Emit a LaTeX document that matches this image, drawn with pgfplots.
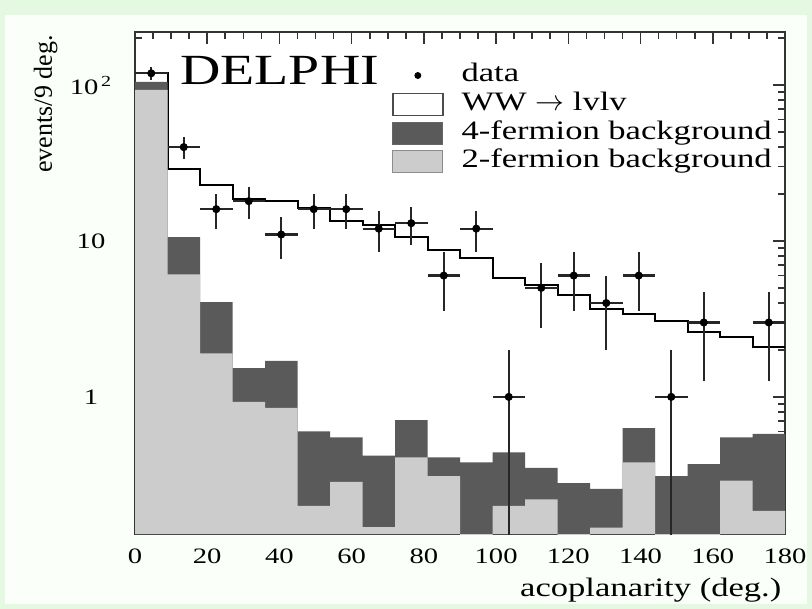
\documentclass[border=0pt]{standalone}
\usepackage{fontspec}
\setmainfont{Liberation Serif}[FakeStretch=1.3]
\newfontfamily\plainserif{Liberation Serif}
\usepackage{pgfplots}
\pgfplotsset{compat=1.18}
\definecolor{lightfill}{HTML}{CCCCCC}
\definecolor{darkfill}{HTML}{5A5A5A}
\definecolor{pagebg}{HTML}{E4F8E2}
\definecolor{innerbg}{HTML}{FBFFFA}
\definecolor{framecol}{HTML}{333333}

\begin{document}
\begin{tikzpicture}
\fill[pagebg] (0,0) rectangle (406pt,304.5pt);
\fill[innerbg] (2.5pt,2.5pt) rectangle (403.5pt,297pt);
\useasboundingbox (0,0) rectangle (406pt,304.5pt);
\begin{axis}[
  at={(67.5pt,37.5pt)}, anchor=south west,
  scale only axis, width=325pt, height=251pt,
  ymode=log, log origin=infty,
  xmin=0, xmax=180, ymin=0.132, ymax=219,
  xtick={0,20,...,180}, minor x tick num=3,
  ytick={1,10,100}, yticklabels={1,10,10\textsuperscript{\,2}},
  minor ytick={0.2,0.3,0.4,0.5,0.6,0.7,0.8,0.9,2,3,4,5,6,7,8,9,20,30,40,50,60,70,80,90,200},
  tick align=inside, major tick length=6pt, minor tick length=3.5pt,
  tick style={line width=0.8pt, framecol},
  axis line style={line width=1.2pt, framecol},
  axis background/.style={fill=white},
  /pgf/number format/assume math mode=true,
  tick label style={font=\fontsize{11}{13}\selectfont},
  xticklabel style={yshift=-4pt},
  yticklabel style={anchor=center, xshift=-22pt},
  xlabel={acoplanarity (deg.)},
  xlabel style={at={(axis description cs:0.995,-0.0875)}, anchor=north east, inner sep=0pt, font=\fontsize{13.3}{15}\selectfont},
  ylabel={events/9 deg.},
  ylabel style={at={(axis description cs:-0.1185,0.994)}, anchor=south east, inner sep=0pt, font=\plainserif\fontsize{13}{15}\selectfont},
  legend style={draw=none, fill=none, at={(axis description cs:0.395,0.938)}, anchor=north west,
    font=\fontsize{13.3}{15}\selectfont, cells={anchor=west}, row sep=2.4pt, column sep=9pt,
    inner sep=0pt, nodes={inner sep=0pt, text height=9pt, text depth=3pt}},
]
% WW -> lvlv (total) outline
\addplot[const plot, black, line width=1pt, forget plot] coordinates {
 (0,119) (9,29) (18,22.9) (27,18.6) (36,18) (45,16.3) (54,13.4) (63,12.6) (72,10.6) (81,8.75)
 (90,7.8) (99,5.8) (108,5.2) (117,4.5) (126,3.67) (135,3.4) (144,3.07) (153,2.61) (162,2.42) (171,2.09) (180,2.09)};
% 4-fermion + 2-fermion
\addplot[ybar interval, fill=darkfill, draw=none, forget plot] coordinates {
 (0,105) (9,10.6) (18,4.06) (27,1.53) (36,1.70) (45,0.60) (54,0.55) (63,0.42) (72,0.71) (81,0.41)
 (90,0.38) (99,0.44) (108,0.35) (117,0.28) (126,0.257) (135,0.63) (144,0.31) (153,0.37) (162,0.55) (171,0.58) (180,0.58)};
% 2-fermion
\addplot[ybar interval, fill=lightfill, draw=none, forget plot] coordinates {
 (0,93) (9,6.1) (18,1.9) (27,0.93) (36,0.85) (45,0.20) (54,0.285) (63,0.146) (72,0.41) (81,0.31)
 (90,0.01) (99,0.20) (108,0.22) (117,0.01) (126,0.145) (135,0.38) (144,0.01) (153,0.01) (162,0.29) (171,0.186) (180,0.186)};
% data
\addplot[only marks, mark=*, mark size=1.8pt, black, forget plot,
  error bars/.cd, x dir=both, x explicit, y dir=both, y explicit, error mark=none,
  error bar style={line width=1.1pt, black!85}] coordinates {
 (4.5,119) +- (4.5,10.9)
 (13.5,40) +- (4.5,6.3)
 (22.5,16) +- (4.5,4)
 (31.5,18) +- (4.5,4.24)
 (40.5,11) +- (4.5,3.32)
 (49.5,16) +- (4.5,4)
 (58.5,16) +- (4.5,4)
 (67.5,12) +- (4.5,3.46)
 (76.5,13) +- (4.5,3.6)
 (85.5,6) +- (4.5,2.45)
 (94.5,12) +- (4.5,3.46)
 (103.5,1) += (4.5,1) -= (4.5,0.99)
 (112.5,5) +- (4.5,2.24)
 (121.5,6) +- (4.5,2.45)
 (130.5,4) +- (4.5,2)
 (139.5,6) +- (4.5,2.45)
 (148.5,1) += (4.5,1) -= (4.5,0.99)
 (157.5,3) +- (4.5,1.73)
 (175.5,3) +- (4.5,1.73)};
\addlegendimage{legend image code/.code={\path[draw=none, fill=none] (0pt,-5.5pt) rectangle (25pt,5.5pt); \fill[black] (12.5pt,0pt) circle (1.5pt);}}
\addlegendentry{data}
\addlegendimage{legend image code/.code={\draw[fill=white, draw=black!70, line width=0.7pt] (0pt,-5.5pt) rectangle (25pt,5.5pt);}}
\addlegendentry{WW $\rightarrow$ lvlv}
\addlegendimage{legend image code/.code={\draw[fill=darkfill, draw=black!60, line width=0.5pt] (0pt,-5.5pt) rectangle (25pt,5.5pt);}}
\addlegendentry{4-fermion background}
\addlegendimage{legend image code/.code={\draw[fill=lightfill, draw=black!45, line width=0.5pt] (0pt,-5.5pt) rectangle (25pt,5.5pt);}}
\addlegendentry{2-fermion background}
\node[anchor=base west, inner sep=0pt, font=\fontsize{21.5}{24}\selectfont] at (axis description cs:0.069,0.8946) {DELPHI};
\end{axis}
\end{tikzpicture}
\end{document}
